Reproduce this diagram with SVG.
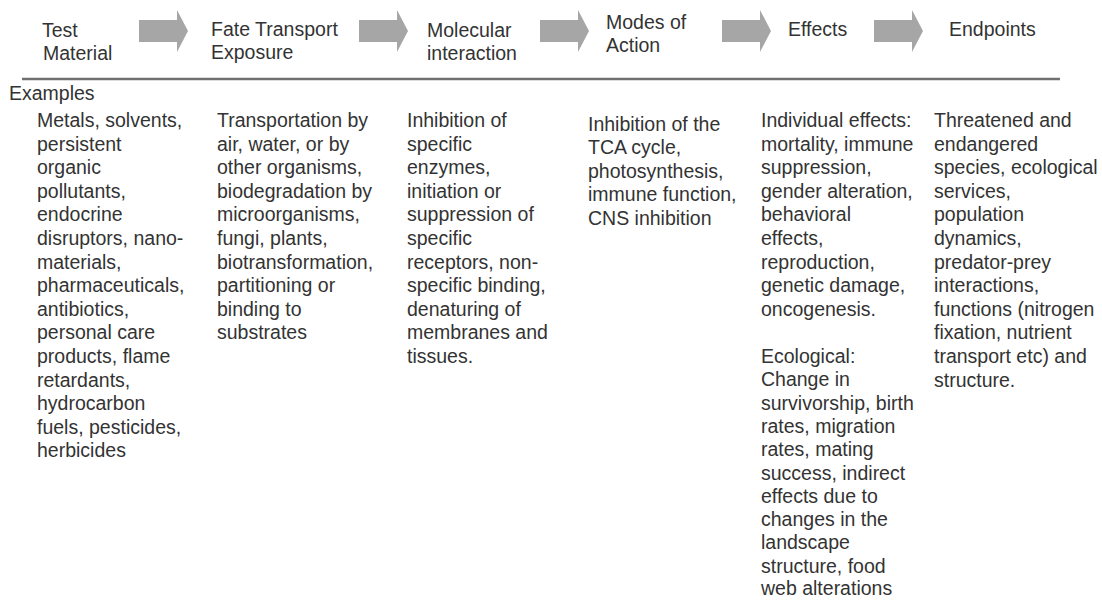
<svg xmlns="http://www.w3.org/2000/svg" width="1102" height="600" viewBox="0 0 1102 600">
<style>
text{font-family:"Liberation Sans",Arial,sans-serif;font-size:19.5px;fill:#333}
.arrow{fill:#a6a6a6}
.rule{stroke:#707070;stroke-width:2.5}
</style>
<defs>
<path id="blk" d="M0,20 H38 V10 L49,31 L38,52 V42 H0 Z"/>
</defs>
<rect width="1102" height="600" fill="#fff"/>
<g id="header-rule"><line class="rule" x1="22" y1="79" x2="1060" y2="79"/></g>

<g id="node-test-material"><text><tspan x="42" y="37">Test</tspan><tspan x="43" y="60">Material</tspan></text></g>
<g id="node-fate"><text><tspan x="211" y="36">Fate Transport</tspan><tspan x="211" y="59">Exposure</tspan></text></g>
<g id="node-molecular"><text><tspan x="427" y="37">Molecular</tspan><tspan x="427" y="60">interaction</tspan></text></g>
<g id="node-modes"><text><tspan x="606" y="29">Modes of</tspan><tspan x="606" y="52">Action</tspan></text></g>
<g id="node-effects"><text x="788" y="36">Effects</text></g>
<g id="node-endpoints"><text x="949" y="36">Endpoints</text></g>

<g id="connectors">
<use href="#blk" class="arrow" x="139" y="0"/>
<use href="#blk" class="arrow" x="359" y="0"/>
<use href="#blk" class="arrow" x="540" y="0"/>
<use href="#blk" class="arrow" x="722" y="0"/>
<use href="#blk" class="arrow" x="874" y="0"/>
</g>

<g id="examples-label"><text x="9" y="100">Examples</text></g>

<g id="col-test-material"><text>
<tspan x="37" y="127">Metals, solvents,</tspan>
<tspan x="37" y="150.6">persistent</tspan>
<tspan x="37" y="174.2">organic</tspan>
<tspan x="37" y="197.8">pollutants,</tspan>
<tspan x="37" y="221.4">endocrine</tspan>
<tspan x="37" y="245">disruptors, nano-</tspan>
<tspan x="37" y="268.6">materials,</tspan>
<tspan x="37" y="292.2">pharmaceuticals,</tspan>
<tspan x="37" y="315.8">antibiotics,</tspan>
<tspan x="37" y="339.4">personal care</tspan>
<tspan x="37" y="363">products, flame</tspan>
<tspan x="37" y="386.6">retardants,</tspan>
<tspan x="37" y="410.2">hydrocarbon</tspan>
<tspan x="37" y="433.8">fuels, pesticides,</tspan>
<tspan x="37" y="457.4">herbicides</tspan>
</text></g>

<g id="col-fate"><text>
<tspan x="217" y="127">Transportation by</tspan>
<tspan x="217" y="150.6">air, water, or by</tspan>
<tspan x="217" y="174.2">other organisms,</tspan>
<tspan x="217" y="197.8">biodegradation by</tspan>
<tspan x="217" y="221.4">microorganisms,</tspan>
<tspan x="217" y="245">fungi, plants,</tspan>
<tspan x="217" y="268.6">biotransformation,</tspan>
<tspan x="217" y="292.2">partitioning or</tspan>
<tspan x="217" y="315.8">binding to</tspan>
<tspan x="217" y="339.4">substrates</tspan>
</text></g>

<g id="col-molecular"><text>
<tspan x="407" y="127">Inhibition of</tspan>
<tspan x="407" y="150.6">specific</tspan>
<tspan x="407" y="174.2">enzymes,</tspan>
<tspan x="407" y="197.8">initiation or</tspan>
<tspan x="407" y="221.4">suppression of</tspan>
<tspan x="407" y="245">specific</tspan>
<tspan x="407" y="268.6">receptors, non-</tspan>
<tspan x="407" y="292.2">specific binding,</tspan>
<tspan x="407" y="315.8">denaturing of</tspan>
<tspan x="407" y="339.4">membranes and</tspan>
<tspan x="407" y="363">tissues.</tspan>
</text></g>

<g id="col-modes"><text>
<tspan x="588" y="130.5">Inhibition of the</tspan>
<tspan x="588" y="154.1">TCA cycle,</tspan>
<tspan x="588" y="177.7">photosynthesis,</tspan>
<tspan x="588" y="201.3">immune function,</tspan>
<tspan x="588" y="224.9">CNS inhibition</tspan>
</text></g>

<g id="col-effects"><text>
<tspan x="761" y="127">Individual effects:</tspan>
<tspan x="761" y="150.6">mortality, immune</tspan>
<tspan x="761" y="174.2">suppression,</tspan>
<tspan x="761" y="197.8">gender alteration,</tspan>
<tspan x="761" y="221.4">behavioral</tspan>
<tspan x="761" y="245">effects,</tspan>
<tspan x="761" y="268.6">reproduction,</tspan>
<tspan x="761" y="292.2">genetic damage,</tspan>
<tspan x="761" y="315.8">oncogenesis.</tspan>
<tspan x="761" y="363">Ecological:</tspan>
<tspan x="761" y="386.3">Change in</tspan>
<tspan x="761" y="409.6">survivorship, birth</tspan>
<tspan x="761" y="432.9">rates, migration</tspan>
<tspan x="761" y="456.2">rates, mating</tspan>
<tspan x="761" y="479.5">success, indirect</tspan>
<tspan x="761" y="502.8">effects due to</tspan>
<tspan x="761" y="526.1">changes in the</tspan>
<tspan x="761" y="549.4">landscape</tspan>
<tspan x="761" y="572.7">structure, food</tspan>
<tspan x="761" y="595">web alterations</tspan>
</text></g>

<g id="col-endpoints"><text>
<tspan x="934" y="127">Threatened and</tspan>
<tspan x="934" y="150.6">endangered</tspan>
<tspan x="934" y="174.2">species, ecological</tspan>
<tspan x="934" y="197.8">services,</tspan>
<tspan x="934" y="221.4">population</tspan>
<tspan x="934" y="245">dynamics,</tspan>
<tspan x="934" y="268.6">predator-prey</tspan>
<tspan x="934" y="292.2">interactions,</tspan>
<tspan x="934" y="315.8">functions (nitrogen</tspan>
<tspan x="934" y="339.4">fixation, nutrient</tspan>
<tspan x="934" y="363">transport etc) and</tspan>
<tspan x="934" y="386.6">structure.</tspan>
</text></g>
</svg>
